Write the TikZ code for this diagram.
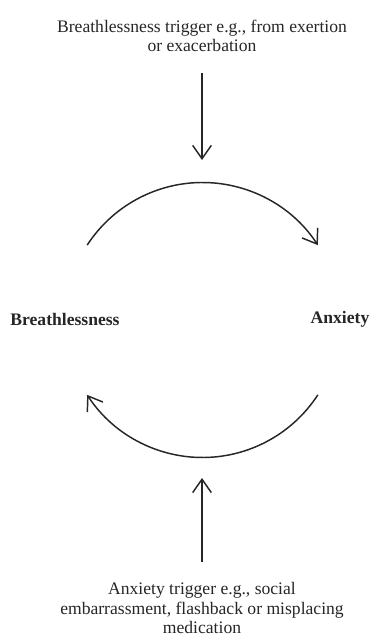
\documentclass[tikz,border=0pt]{standalone}
\usepackage{fontspec}
\setmainfont{Liberation Serif}
\usepackage{tikz}
\usetikzlibrary{calc}
\usetikzlibrary{arrows.meta}

\begin{document}
\begin{tikzpicture}[x=0.75pt,y=0.75pt]
    \tikzstyle{trigger}=[-{Straight Barb[length=10pt,width=14pt]},line width=1.1pt,color=black!85]
    \tikzstyle{cycle}=[-{Straight Barb[length=10pt,width=14pt]},line width=1.1pt,color=black!85]
    \tikzstyle{trigger text}=[align=center,font=\fontsize{13.2}{14.6}\selectfont,text=black!85]
    \tikzstyle{state text}=[font=\fontsize{13.2}{14.6}\selectfont\bfseries,text=black!85]

    \useasboundingbox (0,0) rectangle (371,637);

	\coordinate (C) at (202.5,317);
    \def\r{137.5}

    % Texts
    \node[style=trigger text] (bt) at (202,601) {Breathlessness trigger e.g., from exertion\\or exacerbation};
    \node[style=trigger text] (at) at (202,29) {Anxiety trigger e.g., social\\embarrassment, flashback or misplacing\\medication};
    \node[style=state text] (b) at (65,318) {Breathlessness};
    \node[style=state text] (a) at (340,318) {Anxiety};

    % Trigger arrows
	\coordinate (bt_1) at (202,564);
	\coordinate (bt_2) at (202,477);
	\coordinate (at_1) at (202,75);
	\coordinate (at_2) at (202,159);
	\draw[style=trigger] (bt_1) -- (bt_2);
	\draw[style=trigger] (at_1) -- (at_2);

    % Cycle
	\draw[style=cycle] ($(C)+(147:\r)$) arc (147:33:\r);
	\draw[style=cycle] ($(C)+(-33:\r)$) arc (-33:-147:\r);

\end{tikzpicture}
\end{document}
